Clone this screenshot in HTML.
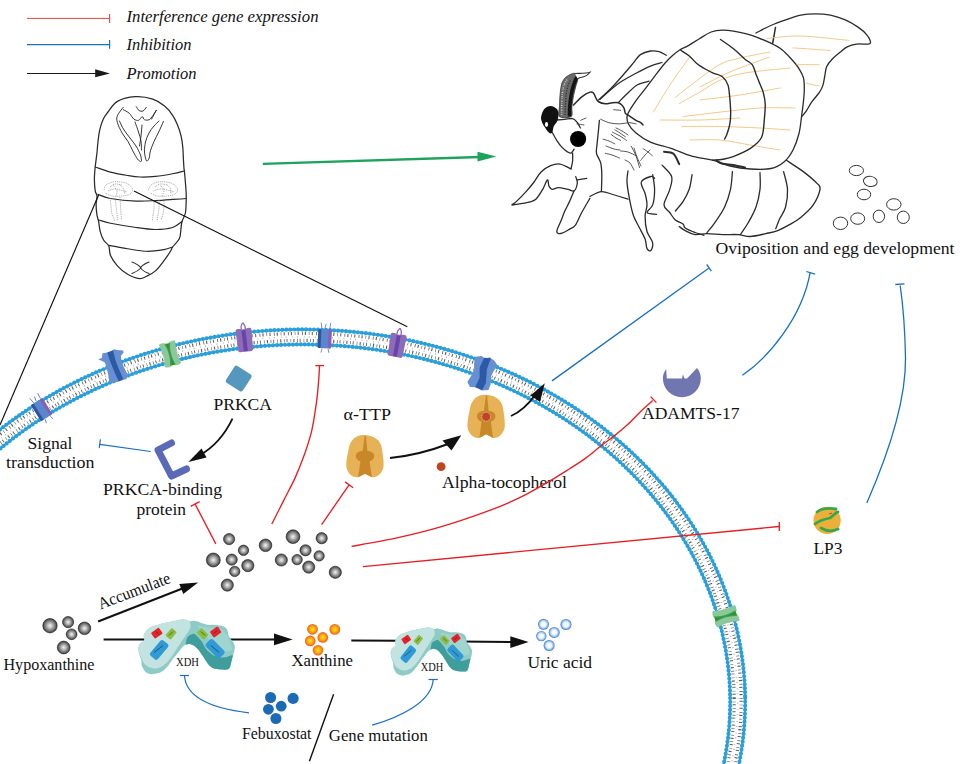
<!DOCTYPE html>
<html><head><meta charset="utf-8"><style>
html,body{margin:0;padding:0;background:#fff;}
svg{display:block;}
text{font-family:"Liberation Serif",serif;fill:#111;}
</style></head><body>
<svg width="966" height="764" viewBox="0 0 966 764">
<defs>
<radialGradient id="gGrey" cx="50%" cy="50%" r="50%">
<stop offset="0" stop-color="#f4f4f4"/><stop offset="0.45" stop-color="#a9a9a9"/><stop offset="0.85" stop-color="#5c5c5c"/><stop offset="1" stop-color="#2e2e2e"/></radialGradient>
<radialGradient id="gOrange" cx="50%" cy="50%" r="50%">
<stop offset="0" stop-color="#ffe600"/><stop offset="0.55" stop-color="#f9a814"/><stop offset="1" stop-color="#ee5a1e"/></radialGradient>
<radialGradient id="gUric" cx="50%" cy="50%" r="50%">
<stop offset="0" stop-color="#ffffff"/><stop offset="0.45" stop-color="#f2f7fd"/><stop offset="0.75" stop-color="#9cc0ec"/><stop offset="1" stop-color="#2f78d0"/></radialGradient>
</defs>
<rect width="966" height="764" fill="#fff"/>
<g>
<line x1="27" y1="18.4" x2="109.6" y2="18.4" stroke="#e8453c" stroke-width="1"/>
<line x1="109.6" y1="14.1" x2="109.6" y2="22.9" stroke="#e8453c" stroke-width="1.1"/>
<line x1="27" y1="44.6" x2="109.6" y2="44.6" stroke="#1a6fc2" stroke-width="1.3"/>
<line x1="109.6" y1="40" x2="109.6" y2="48.8" stroke="#1a6fc2" stroke-width="1.2"/>
<line x1="27" y1="73.5" x2="97" y2="73.5" stroke="#1a1a1a" stroke-width="1.1"/>
<path d="M95.2,69.3 L110,73.5 L95.2,77.3 Z" fill="#1a1a1a"/>
<text x="126.5" y="22.4" font-size="16.8" font-style="italic" textLength="192" lengthAdjust="spacingAndGlyphs">Interference gene expression</text>
<text x="126.5" y="50.4" font-size="16.8" font-style="italic" textLength="65" lengthAdjust="spacingAndGlyphs">Inhibition</text>
<text x="126.5" y="78.7" font-size="16.8" font-style="italic" textLength="70" lengthAdjust="spacingAndGlyphs">Promotion</text>
</g>
<g fill="none" stroke="#2a2a2a" stroke-width="1.15" stroke-linecap="round" stroke-linejoin="round">
<path d="M135.1,96.7 C129.2,97.1 121.9,98.9 117.4,101.4 C112.9,104.0 110.3,109.0 108.0,112.0 C105.7,115.0 104.7,116.1 103.3,119.1 C101.9,122.0 100.7,126.0 99.8,129.7 C98.9,133.4 98.5,137.4 98.0,141.5 C97.5,145.6 97.3,150.2 96.8,154.4 C96.3,158.7 95.6,162.9 95.2,167.0 C94.8,171.1 94.4,175.0 94.4,179.0 C94.4,183.0 94.8,188.1 95.2,190.9 C95.6,193.7 96.8,193.7 97.0,196.0 C97.2,198.3 96.1,201.4 96.1,204.5 C96.1,207.6 96.5,211.9 96.9,214.7 C97.3,217.5 98.0,218.7 98.6,221.5 C99.2,224.3 99.4,228.7 100.3,231.8 C101.2,234.9 102.3,237.9 103.7,240.3 C105.1,242.7 107.7,243.4 108.8,246.0 C109.9,248.6 109.1,252.3 110.5,255.6 C111.9,258.9 114.6,262.7 117.4,265.8 C120.2,268.9 123.9,272.2 127.6,274.3 C131.3,276.4 136.3,278.3 139.5,278.6 C142.7,278.9 144.3,277.3 147.0,276.0 C149.7,274.7 152.7,273.4 155.5,270.9 C158.3,268.3 161.4,264.1 164.0,260.7 C166.6,257.3 169.5,252.8 170.9,250.5 C172.3,248.2 171.2,249.0 172.6,247.0 C174.0,245.0 178.0,241.7 179.4,238.6 C180.8,235.5 180.6,231.2 181.0,228.4 C181.4,225.6 181.3,224.1 182.0,221.5 C182.7,218.9 184.7,216.7 185.4,213.0 C186.1,209.3 186.1,203.2 186.2,199.4 C186.3,195.6 186.3,194.6 186.0,190.0 C185.7,185.4 184.8,175.6 184.5,172.0 C184.2,168.4 184.2,170.8 184.0,168.6 C183.8,166.4 183.6,162.6 183.4,159.1 C183.2,155.6 183.2,151.3 182.8,147.4 C182.4,143.5 181.9,139.3 181.0,135.6 C180.1,131.9 178.9,128.3 177.5,125.0 C176.1,121.7 175.0,118.8 172.8,115.6 C170.7,112.4 167.9,108.8 164.6,106.1 C161.3,103.3 157.7,100.7 152.8,99.1 C147.9,97.5 141.0,96.3 135.1,96.7 Z" stroke-width="1.25"/>
<path d="M95.2,167.0 C97.8,167.8 105.1,170.7 110.5,172.1 C115.9,173.5 122.7,174.7 127.6,175.5 C132.5,176.3 135.3,176.8 140.0,177.0 C144.7,177.2 150.1,176.9 155.5,176.4 C160.9,175.9 167.8,174.7 172.6,173.8 C177.3,172.9 182.1,171.5 184.0,171.0"/>
<path d="M97.8,194.3 C99.9,195.0 104.1,197.4 110.5,198.5 C116.9,199.6 128.6,200.8 136.1,201.1 C143.6,201.4 149.4,200.9 155.5,200.6 C161.6,200.3 167.5,199.8 172.6,199.4 C177.7,199.1 183.8,198.7 186.0,198.5"/>
<path d="M98.6,220.0 C100.6,220.5 104.2,221.9 110.5,223.2 C116.8,224.4 128.6,226.4 136.1,227.5 C143.6,228.6 149.4,229.5 155.5,229.5 C161.6,229.5 168.2,228.8 172.6,227.5 C177.0,226.2 180.4,222.5 182.0,221.5"/>
<path d="M108.8,245.4 C111.9,246.0 121.2,247.8 127.6,248.8 C134.0,249.8 140.9,251.2 147.0,251.3 C153.1,251.4 159.7,250.3 164.0,249.6 C168.3,248.9 171.2,247.4 172.6,247.0"/>
<path d="M123.3,107.3 C122.3,108.7 118.4,113.0 117.4,115.6 C116.4,118.1 116.6,119.7 117.4,122.6 C118.2,125.5 120.4,130.0 122.2,133.2 C124.0,136.3 126.2,138.6 128.0,141.5 C129.8,144.4 131.2,148.0 132.8,150.9 C134.4,153.8 136.2,157.3 137.5,159.1 C138.8,160.9 140.0,161.1 140.5,161.5" stroke-width="0.95"/>
<path d="M156.3,110.3 C155.5,111.8 152.4,117.6 151.6,119.1" stroke-width="0.95"/>
<path d="M163.4,121.4 C162.6,123.2 160.3,128.7 158.7,132.0 C157.1,135.3 155.4,138.3 154.0,141.5 C152.6,144.7 151.2,148.2 150.4,150.9 C149.6,153.7 149.8,156.3 149.2,158.0 C148.5,159.7 147.3,161.8 146.5,160.8 C145.7,159.8 144.7,155.1 144.5,152.0 C144.3,148.9 144.8,145.2 145.5,142.0 C146.2,138.8 147.6,135.7 149.0,133.0 C150.4,130.3 152.3,128.0 154.0,126.0 C155.7,124.0 158.2,121.8 159.0,121.0" stroke-width="0.95"/>
<path d="M123.3,109.7 C124.3,110.3 127.4,111.6 129.2,113.2 C131.0,114.8 132.3,117.9 133.9,119.1 C135.5,120.3 137.2,120.7 138.6,120.3 C140.0,119.9 141.2,116.8 142.2,116.7 C143.2,116.6 143.3,119.2 144.5,119.7 C145.7,120.2 147.8,120.4 149.2,119.7 C150.6,119.0 151.6,117.2 152.8,115.6 C154.0,114.0 155.7,111.2 156.3,110.3" stroke-width="0.95"/>
<path d="M136.3,106.7 C136.8,107.3 137.9,109.8 139.0,110.5 C140.1,111.2 141.8,111.5 143.0,111.0 C144.2,110.5 145.8,107.9 146.3,107.3" stroke-width="0.95"/>
<path d="M119.5,121.0 C120.2,122.5 122.2,127.2 124.0,130.0 C125.8,132.8 128.0,135.3 130.0,138.0 C132.0,140.7 134.2,143.2 136.0,146.0 C137.8,148.8 139.6,152.5 140.5,155.0 C141.4,157.5 141.3,160.0 141.5,161.0" stroke-width="0.95"/>
<path d="M135.0,122.0 C135.6,123.7 137.5,128.8 138.5,132.0 C139.5,135.2 140.5,138.0 141.0,141.0 C141.5,144.0 141.4,148.5 141.5,150.0" stroke-width="0.95"/>
<path d="M142.0,125.0 C141.8,126.8 141.4,132.5 141.0,136.0 C140.6,139.5 139.8,144.3 139.5,146.0" stroke-width="0.95"/>
<path d="M132,262 C137,264 140,266.5 141,268 C139,270 136,272 132,273.5 M149,262 C144,264 141,266.5 140.5,268 C142,270 145,272 149,273.5" stroke-width="1.05"/>
</g>
<g fill="none" stroke="#8a8a8a" stroke-width="0.75" stroke-dasharray="1 0.9">
<path d="M104.0,190.0 C104.3,189.2 104.5,186.3 106.0,185.0 C107.5,183.7 110.5,182.5 113.0,182.0 C115.5,181.5 118.5,181.7 121.0,182.0 C123.5,182.3 126.1,182.8 128.0,184.0 C129.9,185.2 132.2,187.3 132.5,189.0 C132.8,190.7 131.8,192.8 130.0,194.0 C128.2,195.2 125.0,195.7 122.0,196.0 C119.0,196.3 114.8,196.5 112.0,196.0 C109.2,195.5 106.2,193.5 105.0,193.0"/>
<path d="M148.5,190.0 C148.9,189.2 149.4,186.3 151.0,185.0 C152.6,183.7 155.5,182.5 158.0,182.0 C160.5,181.5 163.5,181.7 166.0,182.0 C168.5,182.3 171.1,182.8 173.0,184.0 C174.9,185.2 177.2,187.3 177.5,189.0 C177.8,190.7 176.8,192.8 175.0,194.0 C173.2,195.2 170.0,195.7 167.0,196.0 C164.0,196.3 159.8,196.5 157.0,196.0 C154.2,195.5 151.2,193.5 150.0,193.0"/>
<path d="M110.0,198.0 C110.2,199.3 110.7,203.3 111.0,206.0 C111.3,208.7 111.3,211.5 112.0,214.0 C112.7,216.5 114.5,219.8 115.0,221.0"/>
<path d="M115.0,198.0 C115.2,199.3 115.7,203.3 116.0,206.0 C116.3,208.7 116.7,211.5 117.0,214.0 C117.3,216.5 117.8,219.8 118.0,221.0"/>
<path d="M120.0,197.0 C120.1,198.5 120.3,203.2 120.5,206.0 C120.7,208.8 120.8,211.7 121.0,214.0 C121.2,216.3 121.4,219.0 121.5,220.0"/>
<path d="M154.0,200.0 C154.0,201.3 154.2,205.5 154.0,208.0 C153.8,210.5 153.2,212.8 153.0,215.0 C152.8,217.2 152.6,220.0 152.5,221.0"/>
<path d="M159.0,200.0 C159.0,201.3 159.2,205.5 159.0,208.0 C158.8,210.5 158.3,212.8 158.0,215.0 C157.7,217.2 157.2,220.0 157.0,221.0"/>
<path d="M164.0,199.0 C164.0,200.3 164.2,204.5 164.0,207.0 C163.8,209.5 163.5,211.8 163.0,214.0 C162.5,216.2 161.3,219.0 161.0,220.0"/>
<path d="M110.0,187.0 C110.8,186.5 113.0,184.3 115.0,184.0 C117.0,183.7 120.8,184.8 122.0,185.0"/>
<path d="M155.0,187.0 C155.8,186.5 158.0,184.3 160.0,184.0 C162.0,183.7 165.8,184.8 167.0,185.0"/>
<path d="M108.0,191.0 C109.0,190.7 112.0,189.2 114.0,189.0 C116.0,188.8 117.8,189.5 120.0,190.0 C122.2,190.5 125.8,191.7 127.0,192.0"/>
<path d="M153.0,191.0 C154.2,190.7 157.7,189.2 160.0,189.0 C162.3,188.8 164.7,189.5 167.0,190.0 C169.3,190.5 172.8,191.7 174.0,192.0"/>
<path d="M113.0,185.0 C113.7,186.0 116.5,189.2 117.0,191.0 C117.5,192.8 116.2,195.2 116.0,196.0"/>
<path d="M160.0,185.0 C160.7,185.8 163.7,188.2 164.0,190.0 C164.3,191.8 162.3,195.0 162.0,196.0"/>
<path d="M119.0,184.0 C119.7,184.7 122.0,186.3 123.0,188.0 C124.0,189.7 124.7,193.0 125.0,194.0"/>
<path d="M166.0,184.0 C166.7,184.7 169.2,186.3 170.0,188.0 C170.8,189.7 170.8,193.0 171.0,194.0"/>
</g>
<line x1="98.6" y1="195.1" x2="0" y2="425" stroke="#111" stroke-width="1.15"/>
<line x1="134" y1="191" x2="407.3" y2="326.8" stroke="#111" stroke-width="1.15"/>
<line x1="262.9" y1="163.9" x2="480" y2="157" stroke="#1da35c" stroke-width="2.4"/>
<path d="M477.5,151.8 L496.3,156.4 L477.5,161.6 Z" fill="#1da35c"/>
<g fill="none" stroke="#2b2b2b" stroke-width="1.3" stroke-linecap="round" stroke-linejoin="round">
<path d="M785.6,159.8 C802.8,163.4 798.1,167.7 803.3,171.6 C808.5,175.5 814.2,180.4 817.0,183.4 C819.8,186.4 820.6,185.7 820.0,189.3 C819.4,192.9 816.2,200.5 813.1,205.1 C810.0,209.7 805.2,213.6 801.3,216.9 C797.4,220.2 793.4,222.4 789.5,224.7 C785.6,227.0 781.6,229.1 777.7,230.6 C773.8,232.1 770.5,232.6 765.9,233.6 C761.3,234.6 754.7,236.3 750.1,236.5 C745.5,236.7 742.9,234.9 738.3,234.6 C733.7,234.3 727.8,234.8 722.6,234.6 C717.4,234.4 711.5,233.6 706.9,233.6 C702.3,233.6 698.7,235.1 695.1,234.6 C691.5,234.1 687.8,231.9 685.2,230.6 C682.6,229.3 681.8,230.1 679.3,226.7 C676.8,223.3 673.2,216.1 670.0,210.0 C666.8,203.9 662.5,196.7 660.0,190.0 C657.5,183.3 648.3,176.7 655.0,170.0 C661.7,163.3 678.2,151.7 700.0,150.0 C721.8,148.3 768.4,156.2 785.6,159.8 Z" fill="#fff" stroke="none"/>
<path d="M785.6,159.8 C788.5,161.8 798.1,167.7 803.3,171.6 C808.5,175.5 814.2,180.4 817.0,183.4 C819.8,186.4 820.6,185.7 820.0,189.3 C819.4,192.9 816.2,200.5 813.1,205.1 C810.0,209.7 805.2,213.6 801.3,216.9 C797.4,220.2 793.4,222.4 789.5,224.7 C785.6,227.0 781.6,229.1 777.7,230.6 C773.8,232.1 770.5,232.6 765.9,233.6 C761.3,234.6 754.7,236.3 750.1,236.5 C745.5,236.7 742.9,234.9 738.3,234.6 C733.7,234.3 727.8,234.8 722.6,234.6 C717.4,234.4 711.5,233.6 706.9,233.6 C702.3,233.6 698.7,235.1 695.1,234.6 C691.5,234.1 687.8,231.9 685.2,230.6 C682.6,229.3 680.3,227.3 679.3,226.7" stroke-width="1.35"/>
<path d="M692.1,174.6 C691.6,177.1 690.7,184.9 689.2,189.3 C687.7,193.7 685.6,197.5 683.3,201.1 C681.0,204.7 676.7,209.3 675.4,211.0" stroke-width="1.3"/>
<path d="M732.4,171.6 C732.1,174.6 731.8,183.4 730.5,189.3 C729.2,195.2 727.2,201.4 724.6,207.0 C722.0,212.6 717.7,218.5 714.7,222.8 C711.8,227.1 708.2,231.0 706.9,232.6" stroke-width="1.3"/>
<path d="M760.0,172.6 C760.0,175.4 760.7,183.6 760.0,189.3 C759.3,195.0 758.0,201.4 756.0,207.0 C754.0,212.6 750.8,218.2 748.2,222.8 C745.6,227.4 741.6,232.6 740.3,234.6" stroke-width="1.3"/>
<path d="M783.6,171.6 C784.2,174.6 787.2,183.4 787.5,189.3 C787.8,195.2 786.9,202.1 785.6,207.0 C784.3,211.9 781.4,215.2 779.7,218.8 C778.1,222.4 776.4,227.0 775.7,228.7" stroke-width="1.3"/>
<path d="M755.9,33.0 C754.4,27.2 765.8,27.7 770.8,25.5 C775.8,23.3 780.7,21.6 785.7,19.9 C790.7,18.2 795.6,16.2 800.6,15.2 C805.6,14.2 810.5,13.9 815.5,13.9 C820.5,13.9 825.4,14.2 830.4,15.2 C835.4,16.2 840.6,17.9 845.3,19.9 C850.0,21.9 854.8,24.9 858.4,27.4 C862.0,29.9 864.8,32.3 866.8,34.8 C868.8,37.3 870.4,40.8 870.5,42.3 C870.6,43.8 870.0,43.8 867.7,44.1 C865.4,44.4 859.9,43.6 856.5,44.1 C853.1,44.6 850.0,45.5 847.2,46.9 C844.4,48.3 842.2,50.5 839.7,52.5 C837.2,54.5 834.5,56.7 832.3,59.0 C830.1,61.3 828.0,63.7 826.7,66.5 C825.5,69.3 825.4,72.7 824.8,75.8 C824.2,78.9 823.9,82.3 823.0,85.1 C822.1,87.9 821.1,89.8 819.2,92.6 C817.3,95.4 814.0,98.8 811.8,101.9 C809.6,105.0 807.9,108.7 806.2,111.2 C804.5,113.7 805.9,125.3 801.5,116.8 C797.1,108.3 787.6,74.0 780.0,60.0 C772.4,46.0 757.4,38.8 755.9,33.0 Z" fill="#fff" stroke="none"/>
<path d="M755.9,33.0 C758.4,31.8 765.8,27.7 770.8,25.5 C775.8,23.3 780.7,21.6 785.7,19.9 C790.7,18.2 795.6,16.2 800.6,15.2 C805.6,14.2 810.5,13.9 815.5,13.9 C820.5,13.9 825.4,14.2 830.4,15.2 C835.4,16.2 840.6,17.9 845.3,19.9 C850.0,21.9 854.8,24.9 858.4,27.4 C862.0,29.9 864.8,32.3 866.8,34.8 C868.8,37.3 870.4,40.8 870.5,42.3 C870.6,43.8 870.0,43.8 867.7,44.1 C865.4,44.4 859.9,43.6 856.5,44.1 C853.1,44.6 850.0,45.5 847.2,46.9 C844.4,48.3 842.2,50.5 839.7,52.5 C837.2,54.5 834.5,56.7 832.3,59.0 C830.1,61.3 828.0,63.7 826.7,66.5 C825.5,69.3 825.4,72.7 824.8,75.8 C824.2,78.9 823.9,82.3 823.0,85.1 C822.1,87.9 821.1,89.8 819.2,92.6 C817.3,95.4 814.0,98.8 811.8,101.9 C809.6,105.0 807.9,108.7 806.2,111.2 C804.5,113.7 802.3,115.9 801.5,116.8" stroke-width="1.3"/>
<path d="M775.5,27.4 C775.2,28.8 774.5,33.4 774.0,36.0 C773.5,38.6 772.9,42.0 772.7,43.2" stroke-width="1.5"/>
<path d="M598.6,99.9 C600.8,97.9 607.3,92.1 611.6,87.7 C615.9,83.3 621.0,77.4 624.6,73.3 C628.2,69.2 630.6,66.3 633.2,63.2 C635.8,60.1 637.5,56.6 640.4,54.6 C643.3,52.6 647.4,51.5 650.5,51.0 C653.6,50.5 656.5,51.0 659.1,51.7 C661.7,52.4 665.1,54.7 666.3,55.3" />
<path d="M600.0,99.2 C603.1,96.5 612.8,87.6 618.8,83.3 C624.8,79.0 630.7,76.2 636.0,73.3 C641.3,70.4 646.2,67.9 650.5,66.1 C654.8,64.3 660.1,63.1 662.0,62.5" />
<path d="M618.8,102.0 C620.5,100.3 625.8,94.9 628.9,92.0 C632.0,89.1 634.1,86.6 637.5,84.8 C640.9,83.0 647.1,81.8 649.0,81.2" />
<path d="M627.4,115.0 C628.6,111.1 632.9,105.1 636.0,100.6 C639.1,96.0 643.0,91.8 646.1,87.7 C649.2,83.6 651.7,80.2 654.8,76.1 C657.9,72.0 662.0,66.5 664.9,63.2 C667.8,59.9 669.6,58.2 672.0,56.0 C674.4,53.8 676.6,51.9 679.3,50.2 C681.9,48.5 684.5,47.8 687.9,45.9 C691.2,44.0 695.5,41.0 699.4,38.7 C703.3,36.4 707.4,33.4 711.2,32.0 C715.0,30.6 718.7,30.3 722.4,30.2 C726.1,30.1 729.5,30.5 733.5,31.1 C737.5,31.7 742.6,32.8 746.6,33.9 C750.6,35.0 753.8,36.0 757.8,37.6 C761.8,39.2 766.8,41.2 770.8,43.2 C774.8,45.2 778.6,47.1 782.0,49.7 C785.4,52.3 788.5,55.9 791.3,59.0 C794.1,62.1 796.8,65.2 798.8,68.3 C800.8,71.4 802.5,74.3 803.4,77.7 C804.3,81.1 804.3,84.8 804.3,88.8 C804.3,92.8 803.9,97.2 803.4,101.9 C802.9,106.6 802.2,111.5 801.5,116.8 C800.8,122.1 800.4,128.0 799.0,133.5 C797.6,139.0 795.5,145.2 793.0,150.0 C790.5,154.8 787.7,158.9 784.0,162.0 C780.3,165.1 776.6,167.3 771.0,168.5 C765.4,169.7 757.2,169.4 750.4,169.0 C743.6,168.6 736.3,167.5 730.0,166.0 C723.7,164.5 718.9,161.8 712.5,160.2 C706.1,158.5 698.7,158.1 691.8,156.1 C684.9,154.1 677.9,150.6 671.0,148.3 C664.1,146.0 656.2,144.7 650.4,142.1 C644.6,139.5 639.6,136.0 636.0,133.0 C632.4,130.0 629.9,127.0 628.5,124.0 C627.1,121.0 626.1,118.9 627.4,115.0 Z" fill="#fff" stroke-width="1.3"/>
</g>
<g fill="none" stroke="#f3c27c" stroke-width="0.9" stroke-linecap="round">
<path d="M653.3,112.1 C656.1,107.6 664.0,94.1 670.0,85.0 C676.0,75.9 686.1,62.0 689.3,57.4" />
<path d="M675.0,97.7 C678.3,95.1 687.6,87.5 695.0,82.0 C702.4,76.5 712.1,68.6 719.6,64.6 C727.1,60.6 731.6,60.1 740.0,58.0 C748.4,55.9 765.0,53.0 770.0,52.0" />
<path d="M679.3,103.5 C682.8,101.6 693.3,95.8 700.0,92.0 C706.7,88.2 712.1,83.7 719.6,80.5 C727.1,77.3 733.3,75.1 745.0,73.0 C756.7,70.9 782.5,68.8 790.0,68.0" />
<path d="M683.6,116.5 C689.7,115.8 707.3,113.5 720.0,112.1 C732.7,110.7 747.5,108.7 760.0,108.0 C772.5,107.3 789.2,108.0 795.0,108.0" />
<path d="M682.0,126.5 C688.3,126.5 706.6,126.2 719.6,126.5 C732.6,126.8 748.3,127.4 760.0,128.0 C771.7,128.6 785.0,129.7 790.0,130.0" />
<path d="M700.0,87.0 C705.0,84.5 718.5,77.0 730.0,72.0 C741.5,67.0 762.5,59.7 769.0,57.2" />
<path d="M690.0,140.0 C695.0,140.0 710.0,139.2 720.0,140.0 C730.0,140.8 740.0,143.3 750.0,145.0 C760.0,146.7 775.0,149.2 780.0,150.0" />
<path d="M767.0,38.5 C772.5,38.1 786.3,35.7 800.0,36.0 C813.7,36.3 840.8,39.7 849.0,40.4" />
<path d="M793.0,47.9 C795.8,48.1 803.8,48.5 810.0,49.0 C816.2,49.5 827.0,50.3 830.4,50.6" />
<path d="M796.9,64.6 C800.6,64.6 815.5,64.6 819.2,64.6" />
<path d="M806.2,83.3 C808.4,83.8 817.0,85.5 819.2,86.0" />
<path d="M700.0,100.0 C706.7,99.2 726.7,97.0 740.0,95.0 C753.3,93.0 773.3,89.2 780.0,88.0" />
<path d="M660.0,120.0 C666.7,120.0 686.7,120.3 700.0,120.0 C713.3,119.7 733.3,118.3 740.0,118.0" />
</g>
<g fill="none" stroke="#2b2b2b" stroke-width="1.3" stroke-linecap="round" stroke-linejoin="round">
<path d="M680.7,50.2 C682.1,51.2 686.7,53.8 689.3,56.0 C691.9,58.2 693.9,61.0 696.5,63.2 C699.1,65.4 702.3,67.3 705.2,69.0 C708.1,70.7 710.9,72.0 713.8,73.3 C716.7,74.6 720.0,74.7 722.4,76.7 C724.8,78.7 726.8,81.5 728.0,85.1 C729.2,88.7 729.3,93.5 729.8,98.2 C730.2,102.9 730.7,108.8 730.7,113.1 C730.7,117.4 730.4,120.7 729.8,124.2 C729.2,127.7 727.9,131.5 727.0,134.0 C726.1,136.5 725.0,138.2 724.6,139.0" stroke-width="1.4"/>
<path d="M720.5,39.5 C722.7,41.0 729.5,45.5 733.5,48.8 C737.5,52.0 741.6,56.4 744.7,59.0 C747.8,61.6 750.3,62.1 752.2,64.6 C754.1,67.1 754.7,70.8 755.9,73.9 C757.1,77.0 758.4,80.2 759.6,83.3 C760.8,86.4 762.4,89.2 763.3,92.6 C764.2,96.0 765.0,99.5 765.2,103.8 C765.4,108.1 765.0,113.0 764.4,118.6 C763.8,124.2 763.9,132.3 761.6,137.3 C759.3,142.3 755.1,145.2 750.4,148.4 C745.7,151.6 737.8,154.8 733.2,156.6 C728.6,158.4 726.2,158.6 722.8,159.2 C719.3,159.8 714.2,160.0 712.5,160.2" stroke-width="1.4"/>
<path d="M596.0,128.0 C597.0,124.7 599.8,136.3 603.0,140.0 C606.2,143.7 610.8,147.0 615.0,150.0 C619.2,153.0 623.8,155.8 628.0,158.0 C632.2,160.2 636.3,161.0 640.0,163.0 C643.7,165.0 646.7,165.5 650.0,170.0 C653.3,174.5 660.0,185.0 660.0,190.0 C660.0,195.0 655.3,198.5 650.0,200.0 C644.7,201.5 636.2,200.5 628.0,199.0 C619.8,197.5 606.2,197.5 601.0,191.0 C595.8,184.5 597.8,170.5 597.0,160.0 C596.2,149.5 595.0,131.3 596.0,128.0 Z" fill="#fff" stroke="none"/>
<path d="M716.6,160.7 C717.6,161.2 720.0,163.1 722.8,163.8 C725.6,164.5 729.5,164.3 733.2,164.9 C736.9,165.5 743.0,167.1 745.0,167.5" stroke-width="2"/>
<path d="M573.5,105.0 C574.9,103.6 579.0,99.0 581.8,96.8 C584.5,94.6 588.0,92.7 590.0,92.1 C592.0,91.5 592.6,92.2 593.6,93.2 C594.6,94.2 595.1,96.6 595.9,98.0 C596.7,99.4 596.7,100.5 598.3,101.5 C599.9,102.5 602.9,103.6 605.3,103.8 C607.6,104.0 610.2,102.9 612.4,102.7 C614.6,102.5 616.7,102.3 618.3,102.7 C619.9,103.1 620.8,104.0 621.8,105.0 C622.8,106.0 623.6,107.2 624.2,108.6 C624.8,110.0 624.6,112.1 625.4,113.3 C626.2,114.5 627.1,114.4 628.9,115.6 C630.7,116.8 634.0,119.1 636.0,120.3 C638.0,121.5 639.5,121.9 640.7,122.7 C641.9,123.5 642.6,124.6 643.0,125.0" stroke-width="1.5"/>
<path d="M599.4,120.3 C599.2,122.3 598.7,128.2 598.3,132.1 C597.9,136.0 597.4,140.4 597.1,143.9 C596.8,147.4 595.9,150.2 596.5,153.3 C597.1,156.4 599.7,159.2 600.6,162.7 C601.5,166.2 601.7,169.7 601.8,174.5 C601.9,179.3 601.5,188.8 601.4,191.6" />
<path d="M590.0,196.4 C591.9,195.6 597.6,191.9 601.4,191.6 C605.2,191.3 608.4,193.2 612.8,194.5 C617.2,195.8 625.5,198.4 628.0,199.2" />
<path d="M552.0,132.0 C552.8,133.4 555.3,138.1 556.9,140.6 C558.5,143.1 559.9,145.1 561.6,146.9 C563.3,148.7 565.5,150.6 567.1,151.6 C568.7,152.6 569.8,153.5 571.0,153.1 C572.2,152.7 573.6,149.8 574.1,149.2" />
<path d="M557.0,120.0 C558.3,119.9 562.1,119.6 564.7,119.4 C567.3,119.2 570.5,118.1 572.6,118.6 C574.7,119.1 576.0,120.9 577.3,122.5 C578.6,124.1 579.9,127.1 580.4,128.0" />
<path d="M572.6,153.1 C572.6,154.4 572.9,158.4 572.6,161.0 C572.3,163.6 571.3,167.6 571.0,168.9" />
<path d="M571.0,168.9 C569.2,168.1 563.4,164.6 560.0,164.1 C556.6,163.6 553.8,164.4 550.6,165.7 C547.5,167.0 544.0,169.1 541.1,172.0 C538.2,174.9 535.9,179.6 533.3,183.0 C530.7,186.4 528.3,189.2 525.4,192.4 C522.5,195.6 518.2,199.8 516.0,201.9 C513.8,204.0 511.1,204.8 512.1,205.0 C513.1,205.2 519.3,203.9 522.3,203.4 C525.3,202.9 527.8,202.7 530.1,201.9 C532.5,201.1 534.3,200.8 536.4,198.7 C538.5,196.6 540.9,192.4 542.7,189.3 C544.5,186.2 546.4,180.4 547.4,179.9 C548.4,179.4 548.2,184.5 549.0,186.1 C549.8,187.7 550.5,189.0 552.1,189.3 C553.7,189.6 555.8,187.7 558.4,187.7 C561.0,187.7 565.3,188.8 567.9,189.3 C570.5,189.8 572.5,191.9 574.1,190.8 C575.7,189.8 577.0,185.3 577.3,183.0 C577.6,180.7 576.0,177.8 575.7,176.7" />
<path d="M574.1,190.8 C573.3,192.7 571.0,198.5 569.4,201.9 C567.8,205.3 566.1,208.1 564.7,211.3 C563.3,214.5 562.2,217.8 560.9,221.1 C559.6,224.4 556.8,229.3 556.8,231.4 C556.8,233.5 558.8,233.8 560.9,233.5 C563.0,233.2 566.8,230.8 569.2,229.4 C571.6,228.0 573.3,228.0 575.4,225.2 C577.5,222.4 579.2,217.3 581.6,212.8 C584.0,208.3 588.5,200.7 589.9,198.3" />
<path d="M628.0,170.8 C627.8,172.7 626.7,177.1 627.0,182.1 C627.3,187.1 628.8,195.4 629.9,201.1 C631.0,206.8 632.1,211.9 633.7,216.3 C635.3,220.7 637.5,223.9 639.4,227.7 C641.3,231.5 643.8,235.6 645.1,239.1 C646.4,242.6 646.0,246.7 647.0,248.6 C648.0,250.5 649.8,251.4 650.8,250.5 C651.8,249.6 653.3,246.1 652.7,242.9 C652.1,239.7 648.3,235.9 647.0,231.5 C645.7,227.1 645.1,220.7 645.1,216.3 C645.1,211.9 647.0,208.7 647.0,204.9 C647.0,201.1 646.1,197.3 645.1,193.5 C644.1,189.7 640.3,184.9 641.3,182.1 C642.2,179.3 648.6,177.1 650.8,176.5 C653.0,175.9 654.0,178.0 654.6,178.3" />
<path d="M652.7,174.6 C653.0,177.1 654.6,184.6 654.6,189.7 C654.6,194.8 654.0,201.1 652.7,204.9 C651.4,208.7 646.4,210.9 647.0,212.5 C647.6,214.1 654.9,214.1 656.5,214.4" />
<path d="M662.1,165.1 C663.7,167.0 670.3,172.4 671.6,176.5 C672.9,180.6 671.0,185.0 669.7,189.7 C668.4,194.4 664.0,201.1 664.0,204.9 C664.0,208.7 667.8,210.0 669.7,212.5 C671.6,215.0 673.2,218.2 675.4,220.1 C677.6,222.0 681.4,222.6 683.0,223.9 C684.6,225.2 683.3,226.4 684.9,227.7 C686.5,229.0 689.3,230.2 692.5,231.5 C695.7,232.8 702.0,234.7 703.9,235.3" />
<path d="M664.0,151.8 C665.6,152.1 671.0,151.6 673.5,153.7 C676.0,155.8 678.2,162.4 679.2,164.1" stroke-width="2"/>
<path d="M577.3,179.9 C578.9,179.6 585.1,178.6 586.7,178.3" />
</g>
<g fill="none" stroke="#444" stroke-width="0.9" stroke-linecap="round">
<path d="M612.4,132.1 C613.7,132.8 617.6,134.6 620.0,136.0 C622.4,137.4 625.4,139.7 626.5,140.4" />
<path d="M614.8,129.8 C615.7,130.3 618.2,131.8 620.0,133.0 C621.8,134.2 624.5,136.2 625.4,136.8" />
<path d="M611.2,134.5 C612.0,135.1 614.4,137.0 616.0,138.0 C617.6,139.0 619.8,140.0 620.6,140.4" />
<path d="M603.0,139.2 C604.0,139.5 607.0,140.2 609.0,141.0 C611.0,141.8 613.8,143.4 614.8,143.9" />
<path d="M605.3,153.3 C606.4,153.6 609.6,154.2 612.0,155.0 C614.4,155.8 618.2,157.5 619.5,158.0" />
<path d="M620.6,151.0 C621.8,151.2 625.4,151.2 628.0,152.0 C630.6,152.8 634.7,155.1 636.0,155.7" />
<path d="M631.2,146.2 C632.0,147.8 634.6,152.4 636.0,156.0 C637.4,159.6 638.9,165.6 639.5,167.5" />
<path d="M634.0,148.0 C634.5,149.5 635.8,154.0 637.0,157.0 C638.2,160.0 640.3,164.5 641.0,166.0" />
<path d="M643.0,148.6 C643.8,149.2 646.4,150.8 648.0,152.0 C649.6,153.2 651.7,155.1 652.4,155.7" />
<path d="M640.7,160.4 C641.4,159.5 643.5,156.7 645.0,155.0 C646.5,153.3 649.2,150.8 650.0,150.0" />
<path d="M600.6,119.2 C602.0,119.8 605.8,121.9 608.9,122.7 C612.0,123.5 616.2,123.9 619.5,123.9 C622.8,123.9 626.1,122.7 628.9,122.7 C631.6,122.7 634.8,123.7 636.0,123.9" />
<path d="M613.6,109.7 C614.8,109.8 619.4,110.2 620.6,110.3" />
<path d="M577.0,123.9 C578.2,124.1 582.8,124.8 584.0,125.0" />
<path d="M580.6,120.3 C581.5,119.9 585.1,118.4 586.0,118.0" />
<path d="M616.0,128.0 C617.0,128.5 620.0,129.8 622.0,131.0 C624.0,132.2 627.0,134.3 628.0,135.0" />
<path d="M606.0,146.0 C607.3,146.5 611.7,148.3 614.0,149.0 C616.3,149.7 619.0,149.8 620.0,150.0" />
<path d="M625.0,160.0 C625.8,160.5 628.5,161.3 630.0,163.0 C631.5,164.7 633.3,168.8 634.0,170.0" />
</g>
<path d="M559.4,116.5 C557.5,114.8 559.5,109.5 559.6,106.0 C559.7,102.5 559.6,99.0 560.0,95.3 C560.4,91.6 560.9,86.5 561.8,83.6 C562.7,80.7 563.9,79.2 565.3,77.7 C566.7,76.2 568.4,75.4 570.0,74.7 C571.6,74.0 573.5,72.8 574.8,73.5 C576.1,74.2 577.5,76.7 577.7,78.8 C577.9,80.9 576.6,83.2 575.9,85.9 C575.2,88.7 574.3,91.8 573.6,95.3 C572.9,98.8 572.2,103.6 571.8,107.1 C571.4,110.6 573.3,114.9 571.2,116.5 C569.1,118.1 561.3,118.2 559.4,116.5 Z" fill="#6a6a6a" stroke="#333" stroke-width="0.8"/>
<path d="M569.5,116.5 C569.5,114.8 569.5,109.4 569.8,106.0 C570.0,102.6 570.5,99.2 571.0,96.0 C571.5,92.8 572.2,89.7 573.0,87.0 C573.8,84.3 574.8,81.7 575.5,80.0 C576.2,78.3 576.8,77.5 577.0,77.0" fill="none" stroke="#151515" stroke-width="3.6"/>
<path d="M561.6,115.0 C561.6,113.2 561.7,107.5 561.8,104.0 C561.9,100.5 561.9,97.1 562.3,94.0 C562.7,90.9 563.2,87.9 564.0,85.5 C564.8,83.1 566.5,80.5 567.0,79.5" fill="none" stroke="#d8d8d8" stroke-width="1.5" stroke-dasharray="1 1.6 0.6 1.2"/>
<path d="M565.2,115.0 C565.2,113.2 565.3,107.5 565.5,104.0 C565.7,100.5 565.8,97.0 566.2,94.0 C566.6,91.0 567.3,88.3 568.0,86.0 C568.7,83.7 570.1,81.0 570.5,80.0" fill="none" stroke="#2a2a2a" stroke-width="1.2" stroke-dasharray="1.2 1.4"/>
<path d="M574.8,73.5 C580,73.2 586,73.6 590,72.2 C588,75 584,77 579.5,77.7 L577.7,78.8" fill="#fff" stroke="#333" stroke-width="1.1"/>
<path d="M541.1,117.0 C541.5,114.9 542.7,110.9 544.3,109.1 C545.9,107.3 548.5,106.0 550.6,106.0 C552.7,106.0 555.6,107.5 556.9,109.1 C558.2,110.7 558.4,113.3 558.4,115.4 C558.4,117.5 557.7,119.9 556.9,121.7 C556.1,123.5 554.5,124.6 553.7,126.4 C552.9,128.2 552.9,131.6 552.1,132.7 C551.3,133.8 550.3,133.8 549.0,132.7 C547.7,131.6 545.5,128.2 544.3,126.4 C543.1,124.6 542.4,123.3 541.9,121.7 C541.4,120.1 540.7,119.1 541.1,117.0 Z" fill="#111" stroke="none"/>
<circle cx="578.1" cy="139" r="8.1" fill="#000"/>
<ellipse cx="546.5" cy="124.5" rx="1.6" ry="2.4" fill="#fff"/>
<g fill="none" stroke="#333" stroke-width="1">
<ellipse cx="856.4" cy="170.5" rx="7.1" ry="5.1"/>
<ellipse cx="870.3" cy="181.4" rx="6.9" ry="5.1" transform="rotate(10 870.3 181.4)"/>
<ellipse cx="864" cy="194.5" rx="6.7" ry="5.3"/>
<ellipse cx="893.8" cy="204.4" rx="7.2" ry="5.7"/>
<ellipse cx="857.7" cy="218.6" rx="7" ry="5.7"/>
<ellipse cx="878.9" cy="216.3" rx="5.7" ry="6.2"/>
<ellipse cx="903.3" cy="217.3" rx="6" ry="6.2"/>
<ellipse cx="840.5" cy="223.3" rx="7.2" ry="6.2"/>
</g>
<text x="715.5" y="254.4" font-size="16.3" textLength="239" lengthAdjust="spacingAndGlyphs">Oviposition and egg development</text>
<g fill="none" transform="rotate(-0.705 301.1 703.35)">
<ellipse cx="301.1" cy="703.35" rx="440.1" ry="369.9" stroke="#151515" stroke-width="3.2" stroke-dasharray="0.8 2.1 1.1 2.9 0.6 2.4 1.0 3.3" opacity="0.7"/>
<ellipse cx="301.1" cy="703.35" rx="433.1" ry="362.9" stroke="#151515" stroke-width="3.2" stroke-dasharray="1.1 2.6 0.7 2.0 0.9 3.1 0.6 2.3" opacity="0.7"/>
<ellipse cx="301.1" cy="703.35" rx="436.6" ry="366.4" stroke="#555" stroke-width="1.6" stroke-dasharray="0.6 4.3 0.8 5.9" opacity="0.5"/>
<ellipse cx="301.1" cy="703.35" rx="444.1" ry="373.9" stroke="#2a9fda" stroke-width="2.1"/>
<ellipse cx="301.1" cy="703.35" rx="444.1" ry="373.9" stroke="#2a9fda" stroke-width="4.2" stroke-linecap="round" stroke-dasharray="0 4.0"/>
<ellipse cx="301.1" cy="703.35" rx="429.1" ry="358.9" stroke="#2a9fda" stroke-width="2.1"/>
<ellipse cx="301.1" cy="703.35" rx="429.1" ry="358.9" stroke="#2a9fda" stroke-width="4.2" stroke-linecap="round" stroke-dasharray="0 4.0"/>
</g>
<g transform="translate(41.5,409.7) rotate(-32.0)"><rect x="-6.5" y="-9.5" width="13" height="19" rx="1.5" fill="#5b86cb"/>
<rect x="-6.5" y="-9.5" width="3" height="19" rx="1" fill="#2e55a0"/>
<rect x="4" y="-9.5" width="3" height="19" rx="1" fill="#8a5cb5"/>
<path d="M-3,-10 L-4,-16 M0,-10 L1,-15 M5,-10 L5.5,-16 M-2,10 L-3,14 M4,10 L5,14" stroke="#5872c4" stroke-width="0.8" fill="none"/></g>
<g transform="translate(115.6,372.4) rotate(-21.7)"><path d="M-11.4,-18.4 L-7.3,-18.6 L-5.2,-22.6 L-0.3,-21.6 L7.5,-22.0 L9.5,-20.4 L15.1,-17.6 L14.8,-15.6 L11.2,-13.5 L9.4,-7.9 L9.6,-1.6 L10.4,7.6 L7.7,10.1 L-3.6,9.2 L-6.4,9.5 L-9.4,6.0 L-7.7,-0.4 L-6.6,-8.0 L-6.3,-13.2 L-8.8,-16.0 Z" fill="#6690d2"/>
<path d="M-0.3,-21.6 L5.7,-20.9 L4.3,-10.8 L4.3,-1.9 L4.6,8.9 L-0.2,9.6 L-0.9,2.3 L-1.0,-8.5 L-0.9,-15.6 Z" fill="#2c5aa6"/></g>
<g transform="translate(170.1,354.3) rotate(-15.0)"><path d="M-8.5,-12 C-4,-13.5 -1,-11.5 0,-10.5 C1,-11.5 4,-13.5 8.5,-12 C7,-5 6.5,0 8.5,11 C4,13.5 1,11.5 0,10.5 C-1,11.5 -4,13.5 -8.5,11 C-6.5,3 -6.5,-4 -8.5,-12 Z" fill="#8bca98"/>
<path d="M-3,-11 C-0.5,-4 -0.5,4 -3,11 L3,11 C0.5,4 0.5,-4 3,-11 Z" fill="#3b9e4e"/>
<path d="M-1,-11 C0.5,-4 0.5,4 -1,11 L1,11 C-0.5,4 -0.5,-4 1,-11 Z" fill="#2a8a3c"/></g>
<g transform="translate(244.6,340.2) rotate(-6.5)"><path d="M-8,-10 C-8,-12 -5,-12 -3,-11.5 L3,-11.5 C5,-12 8,-12 8,-10 L7.5,9 C8,11 6,12 4,11.5 L-4,11.5 C-6,12 -8,11 -7.5,9 Z" fill="#8c6cb8"/>
<rect x="-2" y="-10" width="4" height="21" fill="#6a43a8"/>
<path d="M-2,-11 L-2,-14 L-0.5,-17 L0.5,-17 L2,-14 L2,-11" fill="#fff" stroke="#8c6cb8" stroke-width="1.3"/></g>
<g transform="translate(324.5,338.7) rotate(2.4)"><rect x="-6.5" y="-9.5" width="13" height="19" rx="1.5" fill="#5b86cb"/>
<rect x="-6.5" y="-9.5" width="3" height="19" rx="1" fill="#2e55a0"/>
<rect x="4" y="-9.5" width="3" height="19" rx="1" fill="#8a5cb5"/>
<path d="M-3,-10 L-4,-16 M0,-10 L1,-15 M5,-10 L5.5,-16 M-2,10 L-3,14 M4,10 L5,14" stroke="#5872c4" stroke-width="0.8" fill="none"/></g>
<g transform="translate(396.9,345.5) rotate(10.5)"><path d="M-8,-10 C-8,-12 -5,-12 -3,-11.5 L3,-11.5 C5,-12 8,-12 8,-10 L7.5,9 C8,11 6,12 4,11.5 L-4,11.5 C-6,12 -8,11 -7.5,9 Z" fill="#8c6cb8"/>
<rect x="-2" y="-10" width="4" height="21" fill="#6a43a8"/>
<path d="M-2,-11 L-2,-14 L-0.5,-17 L0.5,-17 L2,-14 L2,-11" fill="#fff" stroke="#8c6cb8" stroke-width="1.3"/></g>
<g transform="translate(482.5,373.5) rotate(17)"><path d="M-11.5,-14 L-6,-16.5 L-1.5,-15 L2,-17.5 L8,-15.5 L12,-12 L10,-6 L9,0 L11,8 L10.5,14 L4,16.5 L-2,15 L-8,16.5 L-12,12.5 L-10,5 L-9,-1 L-11,-7 Z" fill="#6690d2"/>
<path d="M-3,-15.5 L3.5,-17 L3,-5 L6,8 L4.5,15.8 L-3,15.2 L-1.5,5 L-4.5,-5 Z" fill="#2c5aa6"/></g>
<g transform="translate(725.6,616.2) rotate(74.0)"><path d="M-8.5,-12 C-4,-13.5 -1,-11.5 0,-10.5 C1,-11.5 4,-13.5 8.5,-12 C7,-5 6.5,0 8.5,11 C4,13.5 1,11.5 0,10.5 C-1,11.5 -4,13.5 -8.5,11 C-6.5,3 -6.5,-4 -8.5,-12 Z" fill="#8bca98"/>
<path d="M-3,-11 C-0.5,-4 -0.5,4 -3,11 L3,11 C0.5,4 0.5,-4 3,-11 Z" fill="#3b9e4e"/>
<path d="M-1,-11 C0.5,-4 0.5,4 -1,11 L1,11 C-0.5,4 -0.5,-4 1,-11 Z" fill="#2a8a3c"/></g>
<rect x="-10" y="-10" width="20" height="20" rx="2.5" fill="#5597bd" transform="translate(238.7,378.6) rotate(33)"/>
<text x="213.5" y="409.6" font-size="16.5" textLength="58.5" lengthAdjust="spacingAndGlyphs">PRKCA</text>
<path d="M171.5,443 L158,450 L171.5,476 L186.5,469" fill="none" stroke="#5b6ab8" stroke-width="7" stroke-linecap="round" stroke-linejoin="round"/>
<path d="M232.5,418.6 C226,432 216,446 200,455" fill="none" stroke="#111" stroke-width="1.8"/>
<path d="M188.4,462 L201.5,448.5 L206.5,457.5 Z" fill="#111"/>
<line x1="150.7" y1="451.5" x2="99.8" y2="444.3" stroke="#1a6fc2" stroke-width="1.2"/>
<line x1="100.4" y1="439.4" x2="99.2" y2="448.2" stroke="#1a6fc2" stroke-width="1.2"/>
<text x="27.5" y="448.8" font-size="16.5" textLength="45" lengthAdjust="spacingAndGlyphs">Signal</text>
<text x="6" y="468.2" font-size="16.5" textLength="88.5" lengthAdjust="spacingAndGlyphs">transduction</text>
<text x="103" y="494.6" font-size="16.5" textLength="119" lengthAdjust="spacingAndGlyphs">PRKCA-binding</text>
<text x="136.5" y="515" font-size="16.5" textLength="49.5" lengthAdjust="spacingAndGlyphs">protein</text>
<g transform="translate(365,456)"><path d="M-2,-21 C9,-21 16,-16 17,-7 C18,0 19,6 18.5,11 C17,17 13,21.3 8,21.3 L6.9,21.3 L0,17.8 L-6.9,21.3 L-8,21.3 C-14,21.3 -18,16 -18.8,10 C-19,4 -17,-3 -16,-9 C-14,-17 -8,-21 -2,-21 Z" fill="#e7b256"/>
<path d="M-0.3,-20.3 L0.9,-20.3 L2.4,-5 C6.5,-5 9.2,-2.8 9.2,0 C9.2,2.8 6.5,5 4.6,5.2 L6.9,21.3 L0,17.8 L-6.9,21.3 L-4.6,5.2 C-6.5,5 -9.2,2.8 -9.2,0 C-9.2,-2.8 -6.5,-5 -2.4,-5 Z" fill="#c8882a"/></g>
<g transform="translate(486.2,416.2) scale(1.0,1.02)"><path d="M-2,-21 C9,-21 16,-16 17,-7 C18,0 19,6 18.5,11 C17,17 13,21.3 8,21.3 L6.9,21.3 L0,17.8 L-6.9,21.3 L-8,21.3 C-14,21.3 -18,16 -18.8,10 C-19,4 -17,-3 -16,-9 C-14,-17 -8,-21 -2,-21 Z" fill="#e7b256"/>
<path d="M-0.3,-20.3 L0.9,-20.3 L2.4,-5 C6.5,-5 9.2,-2.8 9.2,0 C9.2,2.8 6.5,5 4.6,5.2 L6.9,21.3 L0,17.8 L-6.9,21.3 L-4.6,5.2 C-6.5,5 -9.2,2.8 -9.2,0 C-9.2,-2.8 -6.5,-5 -2.4,-5 Z" fill="#c8882a"/><circle cx="0" cy="0.5" r="4.3" fill="#c4402a" stroke="#fff" stroke-width="0.6" stroke-dasharray="1 1"/></g>
<text x="343.5" y="420.4" font-size="16.5" textLength="47.5" lengthAdjust="spacingAndGlyphs">α-TTP</text>
<circle cx="441.1" cy="466.7" r="4.4" fill="#c2441f"/>
<text x="442" y="487.7" font-size="16.5" textLength="125" lengthAdjust="spacingAndGlyphs">Alpha-tocopherol</text>
<path d="M390,458 C410,456 430,451 448,444" fill="none" stroke="#111" stroke-width="1.9"/>
<path d="M461.3,435.2 L442.5,440.5 L451.5,450.5 Z" fill="#111"/>
<path d="M511,416 C520,412 528,405 535,395" fill="none" stroke="#111" stroke-width="1.9"/>
<path d="M544.8,383.2 L530.5,395.5 L540,402 Z" fill="#111"/>
<path d="M666.2,369 C664,372 662.9,375 662.9,378.5 C662.9,389 671.5,397.2 682,397.2 C692.5,397.2 700.8,389 700.8,378.5 C700.8,374.5 699.5,371 697,368 L687,378.6 L684.5,378.6 L683,374.3 L682,378.6 L666.8,378.6 Z" fill="#7076af"/>
<text x="642" y="419" font-size="16.5" textLength="97.5" lengthAdjust="spacingAndGlyphs">ADAMTS-17</text>
<circle cx="827.1" cy="520.4" r="13.6" fill="#ebb03a"/>
<path d="M817,512 C822,508 830,508 836,509 M815,524 C820,520 825,519 830,518 C833,516 836,512 838,512 M821,528 C826,531 832,532 838,529" fill="none" stroke="#3ba54c" stroke-width="2.8" stroke-linecap="round"/>
<path d="M829,514 L832,513" stroke="#e03a2a" stroke-width="1"/>
<text x="813.5" y="553.6" font-size="16.5" textLength="29" lengthAdjust="spacingAndGlyphs">LP3</text>
<g fill="none" stroke="#1a6fc2" stroke-width="1.3">
<line x1="552" y1="380.9" x2="708.7" y2="268.2"/>
<line x1="706.7" y1="264.5" x2="711.4" y2="271.1"/>
<path d="M742.4,375.2 C768,358 802,318 810.2,272.4"/>
<line x1="806.3" y1="271.5" x2="815.1" y2="274.1"/>
<path d="M866.8,502.9 C890,450 906,400 905.5,358 C905,330 903,305 900.2,285.5"/>
<line x1="895.3" y1="284.5" x2="904.5" y2="283.9"/>
</g>
<g fill="none" stroke="#e51f24" stroke-width="1.35">
<line x1="215.8" y1="543.9" x2="195.1" y2="504"/>
<line x1="190.6" y1="506.3" x2="199.6" y2="501.7"/>
<path d="M271.8,524.0 C273.8,520.1 279.6,508.7 283.5,500.9 C287.4,493.1 291.8,485.2 295.3,477.4 C298.8,469.5 301.9,461.6 304.7,453.8 C307.4,446.0 309.8,438.9 311.8,430.3 C313.8,421.7 315.3,410.7 316.5,402.1 C317.7,393.5 318.3,384.6 318.8,378.5 C319.3,372.4 319.4,367.8 319.5,365.6"/>
<line x1="315.3" y1="365.6" x2="324" y2="365.6"/>
<line x1="321.6" y1="524.6" x2="349.1" y2="484.8"/>
<line x1="345" y1="481.9" x2="353.2" y2="487.7"/>
<path d="M351.6,546.4 C359.3,545.0 383.0,541.0 398.0,537.7 C413.0,534.4 426.9,531.0 441.4,526.7 C455.9,522.5 471.8,517.0 484.9,512.2 C497.9,507.4 509.1,502.8 519.7,497.7 C530.3,492.6 540.3,486.6 548.7,481.7 C557.1,476.8 563.8,472.4 570.0,468.5 C576.2,464.6 580.5,461.9 585.7,458.1 C590.9,454.3 596.7,449.2 601.4,445.5 C606.1,441.8 609.6,439.6 614.0,436.1 C618.4,432.6 623.1,428.8 627.6,424.6 C632.1,420.4 637.0,414.9 641.2,410.9 C645.4,406.9 650.8,402.2 652.7,400.5"/>
<line x1="650.6" y1="396.6" x2="656.4" y2="402.6"/>
<line x1="362.9" y1="566.7" x2="779" y2="526.5"/>
<line x1="779.3" y1="522" x2="779.3" y2="531"/>
</g>
<circle cx="229.1" cy="539.1" r="5.6" fill="url(#gGrey)" stroke="#222" stroke-width="0.6"/>
<circle cx="243.5" cy="550.3" r="5.2" fill="url(#gGrey)" stroke="#222" stroke-width="0.6"/>
<circle cx="213.3" cy="560" r="7" fill="url(#gGrey)" stroke="#222" stroke-width="0.6"/>
<circle cx="231.7" cy="559.6" r="5.6" fill="url(#gGrey)" stroke="#222" stroke-width="0.6"/>
<circle cx="247.8" cy="565.6" r="6.1" fill="url(#gGrey)" stroke="#222" stroke-width="0.6"/>
<circle cx="234.7" cy="571.4" r="5.2" fill="url(#gGrey)" stroke="#222" stroke-width="0.6"/>
<circle cx="227.3" cy="585.1" r="6.1" fill="url(#gGrey)" stroke="#222" stroke-width="0.6"/>
<circle cx="265.5" cy="545.3" r="6.3" fill="url(#gGrey)" stroke="#222" stroke-width="0.6"/>
<circle cx="293" cy="536.7" r="6.9" fill="url(#gGrey)" stroke="#222" stroke-width="0.6"/>
<circle cx="281.3" cy="560" r="6.1" fill="url(#gGrey)" stroke="#222" stroke-width="0.6"/>
<circle cx="297.1" cy="559.6" r="5.2" fill="url(#gGrey)" stroke="#222" stroke-width="0.6"/>
<circle cx="305.5" cy="550.3" r="5.6" fill="url(#gGrey)" stroke="#222" stroke-width="0.6"/>
<circle cx="321.7" cy="538.2" r="5.6" fill="url(#gGrey)" stroke="#222" stroke-width="0.6"/>
<circle cx="319.1" cy="555.9" r="5.2" fill="url(#gGrey)" stroke="#222" stroke-width="0.6"/>
<circle cx="308.7" cy="567.1" r="6.1" fill="url(#gGrey)" stroke="#222" stroke-width="0.6"/>
<circle cx="335.3" cy="572.3" r="6.1" fill="url(#gGrey)" stroke="#222" stroke-width="0.6"/>
<circle cx="50" cy="625.7" r="7.2" fill="url(#gGrey)" stroke="#222" stroke-width="0.6"/>
<circle cx="68.1" cy="622.1" r="5.6" fill="url(#gGrey)" stroke="#222" stroke-width="0.6"/>
<circle cx="84.5" cy="628.3" r="6.3" fill="url(#gGrey)" stroke="#222" stroke-width="0.6"/>
<circle cx="71.6" cy="634.3" r="5.4" fill="url(#gGrey)" stroke="#222" stroke-width="0.6"/>
<circle cx="63.7" cy="647.5" r="6.4" fill="url(#gGrey)" stroke="#222" stroke-width="0.6"/>
<circle cx="312.5" cy="629.3" r="5.4" fill="url(#gOrange)"/>
<circle cx="334.8" cy="629.4" r="5.4" fill="url(#gOrange)"/>
<circle cx="322.8" cy="637.4" r="5.3" fill="url(#gOrange)"/>
<circle cx="310.2" cy="640.9" r="5.3" fill="url(#gOrange)"/>
<circle cx="318" cy="650.2" r="5.3" fill="url(#gOrange)"/>
<circle cx="270.6" cy="697.5" r="5.5" fill="#1a6ab4"/>
<circle cx="293.1" cy="698.4" r="5.6" fill="#1a6ab4"/>
<circle cx="281.2" cy="706.2" r="5.4" fill="#1a6ab4"/>
<circle cx="268.4" cy="709.3" r="5.4" fill="#1a6ab4"/>
<circle cx="275.9" cy="718.5" r="5.5" fill="#1a6ab4"/>
<circle cx="543.5" cy="624.3" r="5.5" fill="url(#gUric)"/>
<circle cx="566" cy="624.5" r="5.5" fill="url(#gUric)"/>
<circle cx="554.2" cy="632.4" r="5.5" fill="url(#gUric)"/>
<circle cx="541.3" cy="636.1" r="5.2" fill="url(#gUric)"/>
<circle cx="549.1" cy="645.5" r="5.5" fill="url(#gUric)"/>
<text x="3.5" y="670" font-size="16" textLength="91" lengthAdjust="spacingAndGlyphs">Hypoxanthine</text>
<text font-size="16.8" textLength="76" lengthAdjust="spacingAndGlyphs" transform="translate(100.5,609.5) rotate(-20.8)">Accumulate</text>
<line x1="98.1" y1="621.5" x2="183" y2="588.3" stroke="#111" stroke-width="2.1"/>
<path d="M198.1,582.4 L179.3,583.9 L183.3,594.1 Z" fill="#111"/>
<line x1="103.6" y1="639.4" x2="150" y2="639.4" stroke="#111" stroke-width="2"/>
<line x1="220" y1="639.4" x2="276" y2="639.4" stroke="#111" stroke-width="2"/>
<path d="M292.6,639.4 L274,633.5 L274,645.3 Z" fill="#111"/>
<text x="291.5" y="666.2" font-size="16.5" textLength="61.5" lengthAdjust="spacingAndGlyphs">Xanthine</text>
<line x1="351.3" y1="640.4" x2="400" y2="640.8" stroke="#111" stroke-width="2"/>
<line x1="460" y1="641.5" x2="512" y2="642" stroke="#111" stroke-width="2"/>
<path d="M528.6,642 L510.3,636.2 L510.3,648 Z" fill="#111"/>
<text x="527.5" y="667.9" font-size="16.5" textLength="64.5" lengthAdjust="spacingAndGlyphs">Uric acid</text>
<text x="242" y="738.9" font-size="16" textLength="69.5" lengthAdjust="spacingAndGlyphs">Febuxostat</text>
<text x="328.8" y="740.8" font-size="16.5" textLength="99" lengthAdjust="spacingAndGlyphs">Gene mutation</text>
<line x1="333.6" y1="694.2" x2="309.4" y2="761.3" stroke="#111" stroke-width="1.4"/>
<g fill="none" stroke="#1a6fc2" stroke-width="1.2">
<path d="M249,712.8 C225,710 186,702 184.5,675.5"/>
<line x1="180" y1="675.5" x2="189" y2="675.5"/>
<path d="M372.2,725.2 C400,717 432,702 433.2,679.5"/>
<line x1="428.5" y1="679.5" x2="437.8" y2="679.5"/>
</g>
<g transform="translate(138,619.5)"><path d="M7.5,52.4 C6.4,51.4 4.4,47.9 3.9,46.5 C3.4,45.1 3.6,42.0 3.3,40.5 C2.9,39.0 1.2,34.8 0.9,33.4 C0.6,32.0 0.2,29.7 0.3,28.6 C0.4,27.5 1.4,24.7 2.1,23.8 C2.8,22.9 5.9,21.9 6.3,20.9 C6.7,19.9 5.4,16.7 5.7,15.5 C6.0,14.3 7.8,11.7 8.7,10.7 C9.6,9.7 12.2,7.8 13.4,7.2 C14.6,6.6 18.0,5.8 19.4,5.4 C20.8,5.0 23.9,4.0 25.3,3.6 C26.7,3.2 29.9,2.7 31.3,2.4 C32.7,2.1 35.8,1.5 37.2,1.2 C38.6,0.9 41.9,0.1 43.2,0.0 C44.5,-0.1 47.0,0.1 48.0,0.3 C49.0,0.5 50.5,1.7 51.5,1.8 C52.5,1.9 55.2,1.1 56.3,1.2 C57.4,1.3 59.9,2.0 61.0,2.4 C62.1,2.8 64.7,3.9 65.8,4.2 C66.9,4.5 69.4,5.3 70.6,5.4 C71.8,5.5 75.1,5.3 76.5,5.4 C77.9,5.5 81.3,5.7 82.5,6.0 C83.7,6.3 86.4,7.2 87.2,7.8 C88.0,8.4 89.2,10.3 89.6,11.3 C90.0,12.3 90.2,15.5 90.8,16.7 C91.4,17.9 93.7,20.4 94.4,21.5 C95.1,22.6 96.6,25.0 96.8,26.2 C97.0,27.4 96.5,30.8 96.2,32.2 C95.9,33.6 94.8,36.9 94.4,38.1 C94.1,39.3 93.5,41.8 93.2,42.9 C92.9,44.0 92.4,46.8 92.0,47.6 C91.6,48.4 90.7,49.7 89.6,50.0 C88.5,50.3 84.2,50.1 82.5,50.0 C80.8,49.9 76.7,49.3 75.3,48.8 C73.9,48.3 71.7,46.5 70.6,45.3 C69.5,44.1 66.9,39.8 65.8,38.1 C64.7,36.4 62.1,32.4 61.0,31.0 C59.9,29.6 57.4,27.0 56.3,26.2 C55.2,25.4 52.5,24.5 51.5,24.4 C50.5,24.3 48.8,24.6 48.0,25.0 C47.2,25.4 45.2,26.6 44.4,27.4 C43.6,28.2 41.8,31.0 40.8,32.2 C39.8,33.4 37.0,36.9 36.0,38.1 C35.0,39.3 33.3,41.8 32.5,42.9 C31.7,44.0 29.7,46.6 28.9,47.6 C28.1,48.6 26.3,50.5 25.3,51.2 C24.3,51.9 22.0,53.2 20.6,53.6 C19.2,54.0 14.9,54.9 13.4,54.8 C11.9,54.7 8.6,53.4 7.5,52.4 Z" fill="#8ecbc6"/><path d="M0.3,28.6 C0.4,27.4 1.4,24.7 2.1,23.8 C2.8,22.9 5.9,21.9 6.3,20.9 C6.7,19.9 5.4,16.7 5.7,15.5 C6.0,14.3 7.8,11.7 8.7,10.7 C9.6,9.7 12.2,7.8 13.4,7.2 C14.6,6.6 18.0,5.8 19.4,5.4 C20.8,5.0 23.9,4.0 25.3,3.6 C26.7,3.2 29.9,2.7 31.3,2.4 C32.7,2.1 35.8,1.5 37.2,1.2 C38.6,0.9 41.9,0.1 43.2,0.0 C44.5,-0.1 47.0,0.1 48.0,0.3 C49.0,0.5 51.0,0.9 51.5,1.8 C52.0,2.7 52.8,6.6 52.5,8.0 C52.2,9.4 49.9,12.6 49.0,14.0 C48.1,15.4 45.9,18.6 45.0,20.0 C44.1,21.4 41.9,24.6 41.0,26.0 C40.1,27.4 37.9,30.6 37.0,32.0 C36.1,33.4 33.9,36.7 33.0,38.0 C32.1,39.3 30.1,42.0 29.0,43.0 C27.9,44.0 25.3,46.3 24.0,47.0 C22.7,47.7 19.4,48.9 18.0,49.0 C16.6,49.1 13.3,48.5 12.0,48.0 C10.7,47.5 7.9,45.9 7.0,45.0 C6.1,44.1 4.6,41.3 4.0,40.0 C3.4,38.7 1.9,35.3 1.5,34.0 C1.1,32.7 0.2,29.8 0.3,28.6 Z" fill="#c3e3e0"/><path d="M60.0,6.0 C60.9,5.8 67.4,7.7 70.0,8.0 C72.6,8.3 79.9,8.3 82.0,9.0 C84.1,9.7 86.8,12.5 88.0,14.0 C89.2,15.5 91.3,20.1 92.0,22.0 C92.7,23.9 94.5,28.8 94.0,30.0 C93.5,31.2 89.6,32.0 88.0,32.0 C86.4,32.0 81.6,30.9 80.0,30.0 C78.4,29.1 75.4,25.6 74.0,24.0 C72.6,22.4 69.4,17.6 68.0,16.0 C66.6,14.4 62.9,11.2 62.0,10.0 C61.1,8.8 59.1,6.2 60.0,6.0 Z" fill="#9fd5cf"/><path d="M50.3,16.7 C51.2,16.0 54.8,13.7 56.3,14.3 C57.8,14.9 62.0,19.7 63.4,21.5 C64.8,23.3 66.8,28.1 68.2,29.8 C69.6,31.5 73.4,34.7 75.3,35.7 C77.2,36.7 82.7,38.1 84.9,38.1 C87.1,38.1 93.3,35.7 94.4,35.7 C95.5,35.7 94.5,37.3 94.4,38.1 C94.3,38.9 93.5,41.8 93.2,42.9 C92.9,44.0 92.4,46.8 92.0,47.6 C91.6,48.4 90.7,49.7 89.6,50.0 C88.5,50.3 84.2,50.1 82.5,50.0 C80.8,49.9 76.7,49.3 75.3,48.8 C73.9,48.3 71.7,46.5 70.6,45.3 C69.5,44.1 66.9,39.8 65.8,38.1 C64.7,36.4 62.1,32.4 61.0,31.0 C59.9,29.6 57.4,27.0 56.3,26.2 C55.2,25.4 52.5,24.5 51.5,24.4 C50.5,24.3 48.4,25.5 48.0,25.0 C47.6,24.5 48.2,21.0 48.5,20.0 C48.8,19.0 49.4,17.4 50.3,16.7 Z" fill="#3f9e9b"/><g transform="translate(18.8,13.7) rotate(-35)"><rect x="-4.8" y="-3.6" width="9.6" height="7.2" rx="1" fill="#e4232a"/></g>
<g transform="translate(33.1,14.3) rotate(-50)"><rect x="-5" y="-3.4" width="10" height="6.8" rx="1.2" fill="#8cbd3c"/></g>
<g transform="translate(21.2,30.4) rotate(-50)"><rect x="-10" y="-5" width="20" height="10" rx="2.5" fill="#2f9ad5"/></g>
<g transform="translate(64.6,14.3) rotate(45)"><rect x="-5" y="-3.4" width="10" height="6.8" rx="1.2" fill="#8cbd3c"/></g>
<g transform="translate(77.7,12.5) rotate(-35)"><rect x="-4.8" y="-3.6" width="9.6" height="7.2" rx="1" fill="#e4232a"/></g>
<g transform="translate(77.1,29.2) rotate(45)"><rect x="-10" y="-5" width="20" height="10" rx="2.5" fill="#2f9ad5"/></g>
<g stroke="#223" stroke-width="0.6" fill="none"><path d="M16,33 L25,26 M18,12 L21,15 M31,16 L35,12 M63,12 L67,16 M76,14 L79,11 M73,26 L81,33"/></g></g>
<g transform="translate(390.4,627.4) scale(0.843,0.88)"><path d="M7.5,52.4 C6.4,51.4 4.4,47.9 3.9,46.5 C3.4,45.1 3.6,42.0 3.3,40.5 C2.9,39.0 1.2,34.8 0.9,33.4 C0.6,32.0 0.2,29.7 0.3,28.6 C0.4,27.5 1.4,24.7 2.1,23.8 C2.8,22.9 5.9,21.9 6.3,20.9 C6.7,19.9 5.4,16.7 5.7,15.5 C6.0,14.3 7.8,11.7 8.7,10.7 C9.6,9.7 12.2,7.8 13.4,7.2 C14.6,6.6 18.0,5.8 19.4,5.4 C20.8,5.0 23.9,4.0 25.3,3.6 C26.7,3.2 29.9,2.7 31.3,2.4 C32.7,2.1 35.8,1.5 37.2,1.2 C38.6,0.9 41.9,0.1 43.2,0.0 C44.5,-0.1 47.0,0.1 48.0,0.3 C49.0,0.5 50.5,1.7 51.5,1.8 C52.5,1.9 55.2,1.1 56.3,1.2 C57.4,1.3 59.9,2.0 61.0,2.4 C62.1,2.8 64.7,3.9 65.8,4.2 C66.9,4.5 69.4,5.3 70.6,5.4 C71.8,5.5 75.1,5.3 76.5,5.4 C77.9,5.5 81.3,5.7 82.5,6.0 C83.7,6.3 86.4,7.2 87.2,7.8 C88.0,8.4 89.2,10.3 89.6,11.3 C90.0,12.3 90.2,15.5 90.8,16.7 C91.4,17.9 93.7,20.4 94.4,21.5 C95.1,22.6 96.6,25.0 96.8,26.2 C97.0,27.4 96.5,30.8 96.2,32.2 C95.9,33.6 94.8,36.9 94.4,38.1 C94.1,39.3 93.5,41.8 93.2,42.9 C92.9,44.0 92.4,46.8 92.0,47.6 C91.6,48.4 90.7,49.7 89.6,50.0 C88.5,50.3 84.2,50.1 82.5,50.0 C80.8,49.9 76.7,49.3 75.3,48.8 C73.9,48.3 71.7,46.5 70.6,45.3 C69.5,44.1 66.9,39.8 65.8,38.1 C64.7,36.4 62.1,32.4 61.0,31.0 C59.9,29.6 57.4,27.0 56.3,26.2 C55.2,25.4 52.5,24.5 51.5,24.4 C50.5,24.3 48.8,24.6 48.0,25.0 C47.2,25.4 45.2,26.6 44.4,27.4 C43.6,28.2 41.8,31.0 40.8,32.2 C39.8,33.4 37.0,36.9 36.0,38.1 C35.0,39.3 33.3,41.8 32.5,42.9 C31.7,44.0 29.7,46.6 28.9,47.6 C28.1,48.6 26.3,50.5 25.3,51.2 C24.3,51.9 22.0,53.2 20.6,53.6 C19.2,54.0 14.9,54.9 13.4,54.8 C11.9,54.7 8.6,53.4 7.5,52.4 Z" fill="#8ecbc6"/><path d="M0.3,28.6 C0.4,27.4 1.4,24.7 2.1,23.8 C2.8,22.9 5.9,21.9 6.3,20.9 C6.7,19.9 5.4,16.7 5.7,15.5 C6.0,14.3 7.8,11.7 8.7,10.7 C9.6,9.7 12.2,7.8 13.4,7.2 C14.6,6.6 18.0,5.8 19.4,5.4 C20.8,5.0 23.9,4.0 25.3,3.6 C26.7,3.2 29.9,2.7 31.3,2.4 C32.7,2.1 35.8,1.5 37.2,1.2 C38.6,0.9 41.9,0.1 43.2,0.0 C44.5,-0.1 47.0,0.1 48.0,0.3 C49.0,0.5 51.0,0.9 51.5,1.8 C52.0,2.7 52.8,6.6 52.5,8.0 C52.2,9.4 49.9,12.6 49.0,14.0 C48.1,15.4 45.9,18.6 45.0,20.0 C44.1,21.4 41.9,24.6 41.0,26.0 C40.1,27.4 37.9,30.6 37.0,32.0 C36.1,33.4 33.9,36.7 33.0,38.0 C32.1,39.3 30.1,42.0 29.0,43.0 C27.9,44.0 25.3,46.3 24.0,47.0 C22.7,47.7 19.4,48.9 18.0,49.0 C16.6,49.1 13.3,48.5 12.0,48.0 C10.7,47.5 7.9,45.9 7.0,45.0 C6.1,44.1 4.6,41.3 4.0,40.0 C3.4,38.7 1.9,35.3 1.5,34.0 C1.1,32.7 0.2,29.8 0.3,28.6 Z" fill="#c3e3e0"/><path d="M60.0,6.0 C60.9,5.8 67.4,7.7 70.0,8.0 C72.6,8.3 79.9,8.3 82.0,9.0 C84.1,9.7 86.8,12.5 88.0,14.0 C89.2,15.5 91.3,20.1 92.0,22.0 C92.7,23.9 94.5,28.8 94.0,30.0 C93.5,31.2 89.6,32.0 88.0,32.0 C86.4,32.0 81.6,30.9 80.0,30.0 C78.4,29.1 75.4,25.6 74.0,24.0 C72.6,22.4 69.4,17.6 68.0,16.0 C66.6,14.4 62.9,11.2 62.0,10.0 C61.1,8.8 59.1,6.2 60.0,6.0 Z" fill="#9fd5cf"/><path d="M50.3,16.7 C51.2,16.0 54.8,13.7 56.3,14.3 C57.8,14.9 62.0,19.7 63.4,21.5 C64.8,23.3 66.8,28.1 68.2,29.8 C69.6,31.5 73.4,34.7 75.3,35.7 C77.2,36.7 82.7,38.1 84.9,38.1 C87.1,38.1 93.3,35.7 94.4,35.7 C95.5,35.7 94.5,37.3 94.4,38.1 C94.3,38.9 93.5,41.8 93.2,42.9 C92.9,44.0 92.4,46.8 92.0,47.6 C91.6,48.4 90.7,49.7 89.6,50.0 C88.5,50.3 84.2,50.1 82.5,50.0 C80.8,49.9 76.7,49.3 75.3,48.8 C73.9,48.3 71.7,46.5 70.6,45.3 C69.5,44.1 66.9,39.8 65.8,38.1 C64.7,36.4 62.1,32.4 61.0,31.0 C59.9,29.6 57.4,27.0 56.3,26.2 C55.2,25.4 52.5,24.5 51.5,24.4 C50.5,24.3 48.4,25.5 48.0,25.0 C47.6,24.5 48.2,21.0 48.5,20.0 C48.8,19.0 49.4,17.4 50.3,16.7 Z" fill="#3f9e9b"/><g transform="translate(18.8,13.7) rotate(-35)"><rect x="-4.8" y="-3.6" width="9.6" height="7.2" rx="1" fill="#e4232a"/></g>
<g transform="translate(33.1,14.3) rotate(-50)"><rect x="-5" y="-3.4" width="10" height="6.8" rx="1.2" fill="#8cbd3c"/></g>
<g transform="translate(21.2,30.4) rotate(-50)"><rect x="-10" y="-5" width="20" height="10" rx="2.5" fill="#2f9ad5"/></g>
<g transform="translate(64.6,14.3) rotate(45)"><rect x="-5" y="-3.4" width="10" height="6.8" rx="1.2" fill="#8cbd3c"/></g>
<g transform="translate(77.7,12.5) rotate(-35)"><rect x="-4.8" y="-3.6" width="9.6" height="7.2" rx="1" fill="#e4232a"/></g>
<g transform="translate(77.1,29.2) rotate(45)"><rect x="-10" y="-5" width="20" height="10" rx="2.5" fill="#2f9ad5"/></g>
<g stroke="#223" stroke-width="0.6" fill="none"><path d="M16,33 L25,26 M18,12 L21,15 M31,16 L35,12 M63,12 L67,16 M76,14 L79,11 M73,26 L81,33"/></g></g>
<text x="176" y="666.2" font-size="12.2" textLength="23" lengthAdjust="spacingAndGlyphs">XDH</text>
<text x="420.7" y="670.5" font-size="12.2" textLength="22.5" lengthAdjust="spacingAndGlyphs">XDH</text>
</svg>
</body></html>
